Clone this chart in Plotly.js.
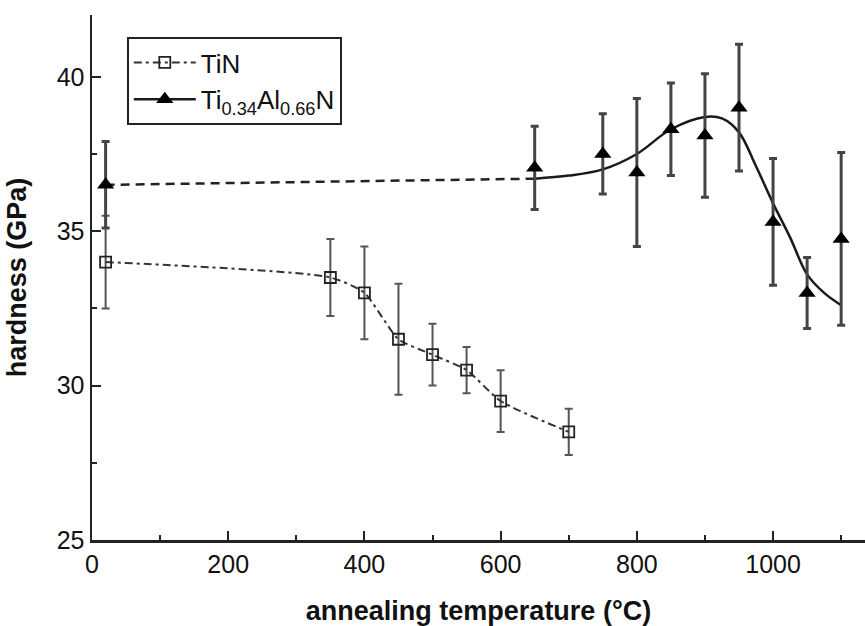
<!DOCTYPE html>
<html>
<head>
<meta charset="utf-8">
<script src="https://cdn.plot.ly/plotly-3.0.1.min.js"></script>
<style>html,body{margin:0;padding:0;background:#fff;}#chart{width:865px;height:626px;}</style>
</head>
<body>
<div id="chart"></div>
<script>
// TiN measurements
const tinT = [20, 350, 400, 450, 500, 550, 600, 700];
const tinH = [34.0, 33.5, 33.0, 31.5, 31.0, 30.5, 29.5, 28.5];
const tinErr = [1.5, 1.25, 1.5, 1.8, 1.0, 0.75, 1.0, 0.75];

// Ti0.34Al0.66N measurements
const alT = [20, 650, 750, 800, 850, 900, 950, 1000, 1050, 1100];
const alH = [36.5, 37.05, 37.5, 36.9, 38.3, 38.1, 39.0, 35.3, 33.0, 34.75];
const alErr = [1.4, 1.35, 1.3, 2.4, 1.5, 2.0, 2.05, 2.05, 1.15, 2.8];

// dashed guide from room temperature to fit start
const dashT = [20, 650];
const dashH = [36.5, 36.7];

// smooth fit curve for Ti0.34Al0.66N
const fitT = [650, 700, 750, 800, 850, 900, 925, 950, 975, 1000, 1025, 1050, 1075, 1100];
const fitH = [36.7, 36.8, 37.0, 37.5, 38.3, 38.7, 38.65, 38.2, 37.1, 35.9, 34.8, 33.6, 33.0, 32.6];

const xTicks = [0, 200, 400, 600, 800, 1000];
const yTicks = [25, 30, 35, 40];

const traces = [
  {
    x: dashT, y: dashH, mode: 'lines', showlegend: false, hoverinfo: 'skip',
    line: {color: '#222', width: 2.5, dash: '9px,6px'}
  },
  {
    x: fitT, y: fitH, mode: 'lines', showlegend: false, hoverinfo: 'skip',
    line: {color: '#1a1a1a', width: 2.5, shape: 'spline', smoothing: 1}
  },
  {
    x: tinT, y: tinH, mode: 'lines+markers', name: 'TiN',
    line: {color: '#333', width: 2, dash: '8px,4px,3px,4px', shape: 'spline', smoothing: 0.6},
    marker: {symbol: 'square-open', size: 11, color: '#222', line: {width: 1.8, color: '#222'}},
    error_y: {type: 'data', array: tinErr, visible: true, color: '#555', thickness: 2, width: 4}
  },
  {
    x: alT, y: alH, mode: 'markers', name: 'Ti<sub>0.34</sub>Al<sub>0.66</sub>N', showlegend: false,
    marker: {symbol: 'triangle-up', size: 15, color: '#000'},
    error_y: {type: 'data', array: alErr, visible: true, color: '#444', thickness: 3, width: 4}
  },
  {
    x: [null], y: [null], mode: 'lines+markers', name: 'Ti<sub>0.34</sub>Al<sub>0.66</sub>N',
    line: {color: '#1a1a1a', width: 2.5},
    marker: {symbol: 'triangle-up', size: 15, color: '#000'}
  }
];

const layout = {
  width: 865, height: 626,
  margin: {l: 92, r: 0, t: 15, b: 86, pad: 0},
  paper_bgcolor: '#fff', plot_bgcolor: '#fff',
  font: {family: 'Liberation Sans, Arial, sans-serif', color: '#111', size: 25},
  showlegend: true,
  legend: {
    x: 0.045, y: 0.958, xanchor: 'left', yanchor: 'top',
    bgcolor: '#fff', bordercolor: '#222', borderwidth: 2,
    font: {size: 26, color: '#111'},
    itemwidth: 62, tracegroupgap: 0,
    entrywidth: 245, entrywidthmode: 'pixels'
  },
  xaxis: {
    range: [0, 1135], tickvals: xTicks, ticktext: xTicks.map(String),
    showgrid: false, zeroline: false, showline: true, linecolor: '#222', linewidth: 2.5,
    ticks: 'inside', ticklen: 9, tickwidth: 2, tickcolor: '#222',
    minor: {dtick: 100, tick0: 0, ticks: 'inside', ticklen: 5, tickwidth: 2, tickcolor: '#222'},
    tickfont: {size: 25, color: '#111'},
    title: {text: 'annealing temperature (°C)', font: {size: 27, color: '#111', family: 'Liberation Sans, Arial, sans-serif', weight: 'bold'}, standoff: 26},
    automargin: false
  },
  yaxis: {
    range: [25, 42], tickvals: yTicks, ticktext: yTicks.map(String),
    showgrid: false, zeroline: false, showline: true, linecolor: '#222', linewidth: 2.5,
    ticks: 'inside', ticklen: 9, tickwidth: 2, tickcolor: '#222',
    minor: {dtick: 2.5, tick0: 25, ticks: 'inside', ticklen: 5, tickwidth: 2, tickcolor: '#222'},
    tickfont: {size: 25, color: '#111'},
    title: {text: 'hardness (GPa)', font: {size: 27, color: '#111', family: 'Liberation Sans, Arial, sans-serif', weight: 'bold'}, standoff: 22},
    automargin: false
  }
};

Plotly.newPlot('chart', traces, layout, {displayModeBar: false, staticPlot: true});
</script>
</body>
</html>
